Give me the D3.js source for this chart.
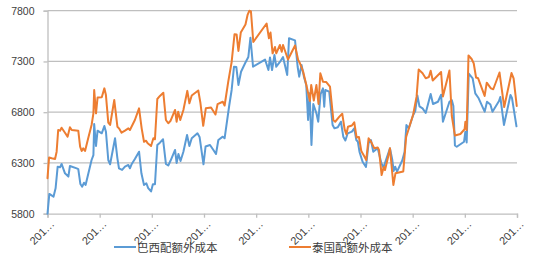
<!DOCTYPE html>
<html><head><meta charset="utf-8">
<script src="https://cdn.jsdelivr.net/npm/d3@7/dist/d3.min.js"></script>
<style>html,body{margin:0;padding:0;background:#fff;}svg{display:block;}</style>
</head><body>
<svg id="c" width="545" height="265"></svg>
<script>
// ---- data (x = weeks from start of series) ----
const seriesNames = ["巴西配额外成本", "泰国配额外成本"];
const yTickValues = [5800, 6300, 6800, 7300, 7800];
const xTickPositions = [0, 20, 40, 60, 80, 100, 120, 140, 160, 180];
const xTickLabels = ["201…","201…","201…","201…","201…","201…","201…","201…","201…","201…"];

const brazilT = [0,0.7,2.3,3.1,3.9,4.8,5.4,6.7,8.0,8.6,11.2,11.8,12.6,13.3,14.0,14.6,16.9,17.6,17.9,18.6,19.2,20.8,21.8,22.4,23.3,24.0,25.9,26.8,27.4,28.6,29.7,31.0,31.6,32.3,33.5,35.1,36.0,37.0,37.9,38.6,39.7,40.4,41.2,42.1,43.1,44.3,45.4,46.3,47.2,48.9,49.5,50.2,51.0,52.1,53.5,54.4,55.3,57.5,58.3,59.8,60.6,62.3,63.6,64.6,65.5,67.2,67.9,69.7,70.6,71.5,72.4,73.2,74.2,75.8,77.0,77.8,78.8,83.4,84.7,85.3,86.1,87.0,87.7,89.1,90.3,91.9,92.6,94.9,95.9,96.5,97.4,98.3,99.2,99.9,100.5,101.2,101.9,103.1,103.8,104.7,105.6,106.1,106.5,108.0,109.3,110.0,111.3,112.5,113.4,114.2,115.1,116.7,117.6,118.4,119.0,119.6,120.8,122.1,123.1,124.0,124.9,125.7,126.6,128.0,128.8,131.3,132.2,132.7,133.3,134.0,136.0,136.9,137.6,138.5,140.2,141.0,141.8,142.6,143.8,145.0,146.9,147.8,149.7,150.9,151.6,154.1,155.0,155.6,156.2,156.9,159.7,160.2,160.7,161.5,163.0,164.0,165.3,167.6,168.5,169.8,170.6,173.1,173.6,175.0,177.5,178.1,179.8];
const brazilValues = [5800,5995,5968,6050,6263,6257,6290,6198,6165,6270,6247,6240,6093,6066,6105,6083,6329,6378,6684,6467,6618,6592,6664,6608,6329,6287,6543,6346,6247,6231,6263,6280,6247,6290,6339,6411,6198,6083,6100,6053,6019,6090,6090,6477,6500,6533,6290,6275,6324,6428,6300,6388,6319,6411,6575,6467,6543,6592,6556,6287,6462,6477,6428,6388,6526,6559,6543,6871,7019,7248,7245,7068,7199,7285,7344,7534,7248,7319,7216,7339,7216,7364,7248,7295,7344,7167,7528,7508,7248,7150,7265,7150,7068,6723,6986,6477,6881,6789,6706,6979,7035,6854,7019,7002,6674,6641,6651,6706,6559,6521,6592,6608,6641,6526,6509,6411,6312,6260,6494,6526,6411,6428,6444,6297,6255,6444,6329,6221,6263,6214,6324,6408,6674,6641,6772,6812,6965,6858,6838,6792,6979,6881,6903,6972,6706,6903,6920,6861,6472,6460,6509,6608,6502,7181,7134,6986,6937,6805,6903,6876,6805,6910,6950,6674,6969,6937,6661];

const thaiT = [0,0.6,1.6,2.9,3.5,4.1,4.8,5.4,6.7,7.7,8.6,9.3,11.8,12.5,13.1,13.7,14.4,15.6,16.9,17.6,17.9,18.6,19.2,20.8,21.8,22.4,23.3,24.0,25.6,26.8,27.4,28.4,29.7,31.0,31.6,33.5,35.1,36.1,37.0,37.8,38.4,39.7,40.6,41.2,42.1,43.1,44.4,45.4,46.3,47.2,48.9,49.5,50.1,50.9,52.1,53.6,54.4,55.3,57.8,58.6,59.7,60.7,62.7,64.4,65.2,67.2,67.9,69.3,70.6,71.7,72.5,73.2,74.1,75.9,76.7,77.4,78.0,78.9,84.0,84.9,85.5,86.3,87.2,87.7,89.1,89.8,90.3,92.2,94.9,96.1,96.8,98.0,99.3,100.6,101.1,102.1,103.1,103.9,104.6,105.6,106.8,108.3,109.6,110.3,111.9,113.0,113.9,114.6,115.2,116.7,117.6,118.5,119.4,120.3,121.6,122.2,123.1,124.0,125.3,126.6,127.1,128.1,128.9,129.4,130.6,131.3,132.6,133.4,136.4,137.5,140.2,141.5,142.3,143.8,145.0,146.2,146.9,147.7,150.9,151.6,154.1,155.0,156.2,158.3,159.9,160.2,160.7,161.4,162.6,163.4,164.3,165.1,167.6,168.4,170.0,170.9,173.3,175.1,177.9,178.7,179.9];
const thaiValues = [6150,6354,6346,6339,6411,6625,6618,6647,6598,6559,6651,6625,6618,6460,6418,6444,6418,6543,6674,6789,7019,6789,6945,6947,7035,6969,6697,6674,6920,6657,6641,6598,6618,6641,6625,6723,6838,6641,6509,6519,6494,6467,6543,6533,6930,6960,6992,6723,6691,6716,6822,6706,6805,6723,6822,7010,6888,6965,7014,6896,6666,6838,6846,6777,6879,6903,6866,7101,7295,7568,7566,7403,7585,7664,7758,7800,7792,7492,7674,7528,7585,7380,7442,7380,7462,7396,7462,7319,7457,7314,7282,7201,7060,6910,7068,6915,7068,6881,7183,7101,7098,7051,6720,6706,6756,6785,6634,6582,6656,6669,6701,6551,6556,6418,6359,6329,6543,6511,6444,6452,6428,6181,6260,6230,6362,6444,6083,6198,6216,6556,6777,6953,7221,7183,7134,7147,7209,7112,7196,6955,7211,6763,6570,6585,6632,6706,6625,7359,7324,7282,7142,7134,6960,7091,7035,7026,7191,6851,7186,7134,6861];

const colors = ["#5B9BD5", "#ED7D31"];

// ---- layout ----
const svg = d3.select("#c");
const mLeft = 47.5, mRight = 517, mTop = 10.7, mBottom = 213.7;
const x = d3.scaleLinear().domain([0, 180]).range([mLeft, mRight]);
const y = d3.scaleLinear().domain([5800, 7800]).range([mBottom, mTop]);

// gridlines
svg.append("g").selectAll("line").data(yTickValues.slice(1)).join("line")
  .attr("x1", mLeft).attr("x2", mRight)
  .attr("y1", d => y(d)).attr("y2", d => y(d))
  .attr("stroke", "#bfbfbf").attr("stroke-width", 1.3);

// y axis
const yAxis = d3.axisLeft(y).tickValues(yTickValues).tickSize(4).tickPadding(9).tickFormat(d3.format("d"));
const gy = svg.append("g").attr("transform", `translate(${mLeft},0)`).call(yAxis);
gy.select(".domain").attr("stroke", "#bfbfbf").attr("stroke-width", 1.3);
gy.selectAll(".tick line").attr("stroke", "#bfbfbf").attr("stroke-width", 1.3);
gy.selectAll(".tick text").attr("fill", "#404040").style("font-family", "'Liberation Sans', Arial, sans-serif").style("font-size", "10.5px");

// x axis
const xAxis = d3.axisBottom(x).tickValues(xTickPositions).tickSize(4).tickFormat((d, i) => xTickLabels[i]);
const gx = svg.append("g").attr("transform", `translate(0,${mBottom})`).call(xAxis);
gx.select(".domain").attr("stroke", "#bfbfbf").attr("stroke-width", 1.3);
gx.selectAll(".tick line").attr("stroke", "#bfbfbf").attr("stroke-width", 1.3);
gx.selectAll(".tick text")
  .attr("fill", "#404040")
  .style("font-family", "'Liberation Sans', Arial, sans-serif").style("font-size", "11px")
  .attr("text-anchor", "end").attr("dy", null).attr("y", 0)
  .attr("transform", "translate(7,11) rotate(-45)");

// lines
const mk = (T, V) => T.map((t, i) => [t, V[i]]);
const line = d3.line().x(d => x(d[0])).y(d => y(d[1]));
[mk(brazilT, brazilValues), mk(thaiT, thaiValues)].forEach((data, i) => {
  svg.append("path").datum(data).attr("d", line)
    .attr("fill", "none").attr("stroke", colors[i]).attr("stroke-width", 2)
    .attr("stroke-linejoin", "round").attr("stroke-linecap", "round");
});

// legend
const legendX = [114, 289];
seriesNames.forEach((n, i) => {
  const g = svg.append("g").attr("transform", `translate(${legendX[i]},247)`);
  g.append("line").attr("x1", 0).attr("x2", 22).attr("y1", 0).attr("y2", 0)
    .attr("stroke", colors[i]).attr("stroke-width", 2);
  g.append("text").attr("x", 23).attr("y", 4.5).text(n)
    .attr("fill", "#404040")
    .style("font-family", "'Noto Sans CJK SC', sans-serif").style("font-size", "11.5px");
});
</script>
</body></html>
